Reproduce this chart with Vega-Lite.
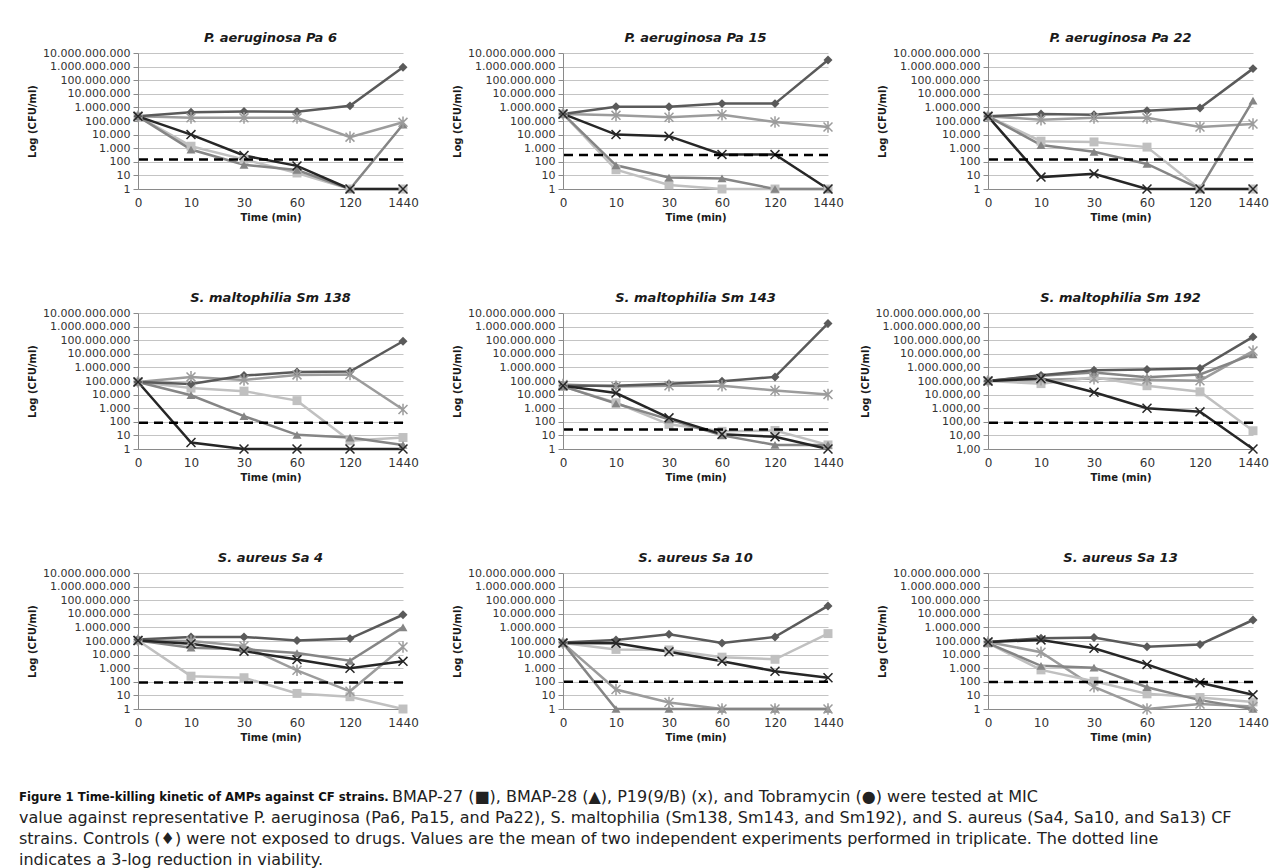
{
"$schema": "https://vega.github.io/schema/vega-lite/v6.json",
"background": "white",
"padding": {"left": 19, "top": 32, "right": 5, "bottom": 0},
"config": {
 "locale": {"number": {"decimal": ",", "thousands": ".", "grouping": [3], "currency": ["€", ""]}},
 "view": {"stroke": null},
 "font": "DejaVu Sans",
 "title": {"fontSize": 13, "fontWeight": "bold", "fontStyle": "italic", "color": "#1a1a1a", "offset": 2, "anchor": "middle", "font": "DejaVu Sans"},
 "axis": {"labelFont": "DejaVu Sans", "titleFont": "DejaVu Sans", "labelColor": "#333333", "titleColor": "#1a1a1a", "titleFontWeight": "bold", "titleFontSize": 10},
 "axisY": {"labelFontSize": 11, "domainColor": "#8a8a8a", "tickColor": "#8a8a8a", "tickSize": 5, "labelPadding": 3, "gridColor": "#c4c4c4", "titlePadding": 5},
 "axisX": {"labelFontSize": 12, "domainColor": "#8a8a8a", "ticks": false, "grid": false, "labelPadding": 8, "titlePadding": 4},
 "legend": {"disable": true}
},
"datasets": {
 "pts": [
  {"p":"Pa6","s":"Tobramycin","t":0,"v":220000},{"p":"Pa6","s":"Tobramycin","t":10,"v":170000},{"p":"Pa6","s":"Tobramycin","t":30,"v":170000},{"p":"Pa6","s":"Tobramycin","t":60,"v":170000},{"p":"Pa6","s":"Tobramycin","t":120,"v":6500},{"p":"Pa6","s":"Tobramycin","t":1440,"v":80000},
  {"p":"Pa6","s":"BMAP-27","t":0,"v":220000},{"p":"Pa6","s":"BMAP-27","t":10,"v":1400},{"p":"Pa6","s":"BMAP-27","t":30,"v":150},{"p":"Pa6","s":"BMAP-27","t":60,"v":15},{"p":"Pa6","s":"BMAP-27","t":120,"v":1},{"p":"Pa6","s":"BMAP-27","t":1440,"v":1},
  {"p":"Pa6","s":"BMAP-28","t":0,"v":220000},{"p":"Pa6","s":"BMAP-28","t":10,"v":800},{"p":"Pa6","s":"BMAP-28","t":30,"v":60},{"p":"Pa6","s":"BMAP-28","t":60,"v":25},{"p":"Pa6","s":"BMAP-28","t":120,"v":1},{"p":"Pa6","s":"BMAP-28","t":1440,"v":55000},
  {"p":"Pa6","s":"Control","t":0,"v":220000},{"p":"Pa6","s":"Control","t":10,"v":440000},{"p":"Pa6","s":"Control","t":30,"v":510000},{"p":"Pa6","s":"Control","t":60,"v":480000},{"p":"Pa6","s":"Control","t":120,"v":1300000},{"p":"Pa6","s":"Control","t":1440,"v":900000000},
  {"p":"Pa6","s":"P19","t":0,"v":220000},{"p":"Pa6","s":"P19","t":10,"v":10000},{"p":"Pa6","s":"P19","t":30,"v":290},{"p":"Pa6","s":"P19","t":60,"v":50},{"p":"Pa6","s":"P19","t":120,"v":1},{"p":"Pa6","s":"P19","t":1440,"v":1},

  {"p":"Pa15","s":"Tobramycin","t":0,"v":330000},{"p":"Pa15","s":"Tobramycin","t":10,"v":260000},{"p":"Pa15","s":"Tobramycin","t":30,"v":190000},{"p":"Pa15","s":"Tobramycin","t":60,"v":290000},{"p":"Pa15","s":"Tobramycin","t":120,"v":85000},{"p":"Pa15","s":"Tobramycin","t":1440,"v":36000},
  {"p":"Pa15","s":"BMAP-27","t":0,"v":330000},{"p":"Pa15","s":"BMAP-27","t":10,"v":26},{"p":"Pa15","s":"BMAP-27","t":30,"v":2},{"p":"Pa15","s":"BMAP-27","t":60,"v":1},{"p":"Pa15","s":"BMAP-27","t":120,"v":1},{"p":"Pa15","s":"BMAP-27","t":1440,"v":1},
  {"p":"Pa15","s":"BMAP-28","t":0,"v":330000},{"p":"Pa15","s":"BMAP-28","t":10,"v":55},{"p":"Pa15","s":"BMAP-28","t":30,"v":7},{"p":"Pa15","s":"BMAP-28","t":60,"v":6},{"p":"Pa15","s":"BMAP-28","t":120,"v":1},{"p":"Pa15","s":"BMAP-28","t":1440,"v":1},
  {"p":"Pa15","s":"Control","t":0,"v":330000},{"p":"Pa15","s":"Control","t":10,"v":1100000},{"p":"Pa15","s":"Control","t":30,"v":1100000},{"p":"Pa15","s":"Control","t":60,"v":1900000},{"p":"Pa15","s":"Control","t":120,"v":1900000},{"p":"Pa15","s":"Control","t":1440,"v":3100000000},
  {"p":"Pa15","s":"P19","t":0,"v":330000},{"p":"Pa15","s":"P19","t":10,"v":10000},{"p":"Pa15","s":"P19","t":30,"v":7700},{"p":"Pa15","s":"P19","t":60,"v":350},{"p":"Pa15","s":"P19","t":120,"v":340},{"p":"Pa15","s":"P19","t":1440,"v":1},

  {"p":"Pa22","s":"Tobramycin","t":0,"v":220000},{"p":"Pa22","s":"Tobramycin","t":10,"v":125000},{"p":"Pa22","s":"Tobramycin","t":30,"v":170000},{"p":"Pa22","s":"Tobramycin","t":60,"v":170000},{"p":"Pa22","s":"Tobramycin","t":120,"v":36000},{"p":"Pa22","s":"Tobramycin","t":1440,"v":60000},
  {"p":"Pa22","s":"BMAP-27","t":0,"v":220000},{"p":"Pa22","s":"BMAP-27","t":10,"v":3300},{"p":"Pa22","s":"BMAP-27","t":30,"v":2900},{"p":"Pa22","s":"BMAP-27","t":60,"v":1200},{"p":"Pa22","s":"BMAP-27","t":120,"v":1},{"p":"Pa22","s":"BMAP-27","t":1440,"v":1},
  {"p":"Pa22","s":"BMAP-28","t":0,"v":220000},{"p":"Pa22","s":"BMAP-28","t":10,"v":1700},{"p":"Pa22","s":"BMAP-28","t":30,"v":540},{"p":"Pa22","s":"BMAP-28","t":60,"v":70},{"p":"Pa22","s":"BMAP-28","t":120,"v":1},{"p":"Pa22","s":"BMAP-28","t":1440,"v":3100000},
  {"p":"Pa22","s":"Control","t":0,"v":220000},{"p":"Pa22","s":"Control","t":10,"v":330000},{"p":"Pa22","s":"Control","t":30,"v":290000},{"p":"Pa22","s":"Control","t":60,"v":570000},{"p":"Pa22","s":"Control","t":120,"v":900000},{"p":"Pa22","s":"Control","t":1440,"v":710000000},
  {"p":"Pa22","s":"P19","t":0,"v":220000},{"p":"Pa22","s":"P19","t":10,"v":7.5},{"p":"Pa22","s":"P19","t":30,"v":13},{"p":"Pa22","s":"P19","t":60,"v":1},{"p":"Pa22","s":"P19","t":120,"v":1},{"p":"Pa22","s":"P19","t":1440,"v":1},

  {"p":"Sm138","s":"Tobramycin","t":0,"v":85000},{"p":"Sm138","s":"Tobramycin","t":10,"v":200000},{"p":"Sm138","s":"Tobramycin","t":30,"v":120000},{"p":"Sm138","s":"Tobramycin","t":60,"v":280000},{"p":"Sm138","s":"Tobramycin","t":120,"v":300000},{"p":"Sm138","s":"Tobramycin","t":1440,"v":800},
  {"p":"Sm138","s":"BMAP-27","t":0,"v":85000},{"p":"Sm138","s":"BMAP-27","t":10,"v":30000},{"p":"Sm138","s":"BMAP-27","t":30,"v":18000},{"p":"Sm138","s":"BMAP-27","t":60,"v":3600},{"p":"Sm138","s":"BMAP-27","t":120,"v":4},{"p":"Sm138","s":"BMAP-27","t":1440,"v":7},
  {"p":"Sm138","s":"BMAP-28","t":0,"v":85000},{"p":"Sm138","s":"BMAP-28","t":10,"v":9000},{"p":"Sm138","s":"BMAP-28","t":30,"v":260},{"p":"Sm138","s":"BMAP-28","t":60,"v":11},{"p":"Sm138","s":"BMAP-28","t":120,"v":7},{"p":"Sm138","s":"BMAP-28","t":1440,"v":2},
  {"p":"Sm138","s":"Control","t":0,"v":85000},{"p":"Sm138","s":"Control","t":10,"v":60000},{"p":"Sm138","s":"Control","t":30,"v":250000},{"p":"Sm138","s":"Control","t":60,"v":460000},{"p":"Sm138","s":"Control","t":120,"v":500000},{"p":"Sm138","s":"Control","t":1440,"v":84000000},
  {"p":"Sm138","s":"P19","t":0,"v":85000},{"p":"Sm138","s":"P19","t":10,"v":3},{"p":"Sm138","s":"P19","t":30,"v":1},{"p":"Sm138","s":"P19","t":60,"v":1},{"p":"Sm138","s":"P19","t":120,"v":1},{"p":"Sm138","s":"P19","t":1440,"v":1},

  {"p":"Sm143","s":"Tobramycin","t":0,"v":55000},{"p":"Sm143","s":"Tobramycin","t":10,"v":40000},{"p":"Sm143","s":"Tobramycin","t":30,"v":45000},{"p":"Sm143","s":"Tobramycin","t":60,"v":45000},{"p":"Sm143","s":"Tobramycin","t":120,"v":20000},{"p":"Sm143","s":"Tobramycin","t":1440,"v":10000},
  {"p":"Sm143","s":"BMAP-27","t":0,"v":40000},{"p":"Sm143","s":"BMAP-27","t":10,"v":2500},{"p":"Sm143","s":"BMAP-27","t":30,"v":65},{"p":"Sm143","s":"BMAP-27","t":60,"v":20},{"p":"Sm143","s":"BMAP-27","t":120,"v":23},{"p":"Sm143","s":"BMAP-27","t":1440,"v":2},
  {"p":"Sm143","s":"BMAP-28","t":0,"v":40000},{"p":"Sm143","s":"BMAP-28","t":10,"v":2200},{"p":"Sm143","s":"BMAP-28","t":30,"v":150},{"p":"Sm143","s":"BMAP-28","t":60,"v":10},{"p":"Sm143","s":"BMAP-28","t":120,"v":2},{"p":"Sm143","s":"BMAP-28","t":1440,"v":2},
  {"p":"Sm143","s":"Control","t":0,"v":45000},{"p":"Sm143","s":"Control","t":10,"v":45000},{"p":"Sm143","s":"Control","t":30,"v":64000},{"p":"Sm143","s":"Control","t":60,"v":95000},{"p":"Sm143","s":"Control","t":120,"v":200000},{"p":"Sm143","s":"Control","t":1440,"v":1700000000},
  {"p":"Sm143","s":"P19","t":0,"v":45000},{"p":"Sm143","s":"P19","t":10,"v":13000},{"p":"Sm143","s":"P19","t":30,"v":195},{"p":"Sm143","s":"P19","t":60,"v":12},{"p":"Sm143","s":"P19","t":120,"v":8},{"p":"Sm143","s":"P19","t":1440,"v":1},

  {"p":"Sm192","s":"Tobramycin","t":0,"v":100000},{"p":"Sm192","s":"Tobramycin","t":10,"v":125000},{"p":"Sm192","s":"Tobramycin","t":30,"v":150000},{"p":"Sm192","s":"Tobramycin","t":60,"v":125000},{"p":"Sm192","s":"Tobramycin","t":120,"v":105000},{"p":"Sm192","s":"Tobramycin","t":1440,"v":16000000},
  {"p":"Sm192","s":"BMAP-27","t":0,"v":100000},{"p":"Sm192","s":"BMAP-27","t":10,"v":64000},{"p":"Sm192","s":"BMAP-27","t":30,"v":190000},{"p":"Sm192","s":"BMAP-27","t":60,"v":45000},{"p":"Sm192","s":"BMAP-27","t":120,"v":16000},{"p":"Sm192","s":"BMAP-27","t":1440,"v":22},
  {"p":"Sm192","s":"BMAP-28","t":0,"v":100000},{"p":"Sm192","s":"BMAP-28","t":10,"v":240000},{"p":"Sm192","s":"BMAP-28","t":30,"v":430000},{"p":"Sm192","s":"BMAP-28","t":60,"v":190000},{"p":"Sm192","s":"BMAP-28","t":120,"v":300000},{"p":"Sm192","s":"BMAP-28","t":1440,"v":9000000},
  {"p":"Sm192","s":"Control","t":0,"v":100000},{"p":"Sm192","s":"Control","t":10,"v":260000},{"p":"Sm192","s":"Control","t":30,"v":630000},{"p":"Sm192","s":"Control","t":60,"v":700000},{"p":"Sm192","s":"Control","t":120,"v":850000},{"p":"Sm192","s":"Control","t":1440,"v":175000000},
  {"p":"Sm192","s":"P19","t":0,"v":100000},{"p":"Sm192","s":"P19","t":10,"v":150000},{"p":"Sm192","s":"P19","t":30,"v":15000},{"p":"Sm192","s":"P19","t":60,"v":1000},{"p":"Sm192","s":"P19","t":120,"v":540},{"p":"Sm192","s":"P19","t":1440,"v":1},

  {"p":"Sa4","s":"Tobramycin","t":0,"v":110000},{"p":"Sa4","s":"Tobramycin","t":10,"v":100000},{"p":"Sa4","s":"Tobramycin","t":30,"v":43000},{"p":"Sa4","s":"Tobramycin","t":60,"v":700},{"p":"Sa4","s":"Tobramycin","t":120,"v":20},{"p":"Sa4","s":"Tobramycin","t":1440,"v":36000},
  {"p":"Sa4","s":"BMAP-27","t":0,"v":110000},{"p":"Sa4","s":"BMAP-27","t":10,"v":260},{"p":"Sa4","s":"BMAP-27","t":30,"v":200},{"p":"Sa4","s":"BMAP-27","t":60,"v":14},{"p":"Sa4","s":"BMAP-27","t":120,"v":8},{"p":"Sa4","s":"BMAP-27","t":1440,"v":1},
  {"p":"Sa4","s":"BMAP-28","t":0,"v":110000},{"p":"Sa4","s":"BMAP-28","t":10,"v":32000},{"p":"Sa4","s":"BMAP-28","t":30,"v":25000},{"p":"Sa4","s":"BMAP-28","t":60,"v":13000},{"p":"Sa4","s":"BMAP-28","t":120,"v":3500},{"p":"Sa4","s":"BMAP-28","t":1440,"v":1000000},
  {"p":"Sa4","s":"Control","t":0,"v":130000},{"p":"Sa4","s":"Control","t":10,"v":200000},{"p":"Sa4","s":"Control","t":30,"v":200000},{"p":"Sa4","s":"Control","t":60,"v":110000},{"p":"Sa4","s":"Control","t":120,"v":150000},{"p":"Sa4","s":"Control","t":1440,"v":8500000},
  {"p":"Sa4","s":"P19","t":0,"v":110000},{"p":"Sa4","s":"P19","t":10,"v":63000},{"p":"Sa4","s":"P19","t":30,"v":18000},{"p":"Sa4","s":"P19","t":60,"v":4300},{"p":"Sa4","s":"P19","t":120,"v":1000},{"p":"Sa4","s":"P19","t":1440,"v":3200},

  {"p":"Sa10","s":"Tobramycin","t":0,"v":70000},{"p":"Sa10","s":"Tobramycin","t":10,"v":27},{"p":"Sa10","s":"Tobramycin","t":30,"v":3},{"p":"Sa10","s":"Tobramycin","t":60,"v":1},{"p":"Sa10","s":"Tobramycin","t":120,"v":1},{"p":"Sa10","s":"Tobramycin","t":1440,"v":1},
  {"p":"Sa10","s":"BMAP-27","t":0,"v":70000},{"p":"Sa10","s":"BMAP-27","t":10,"v":24000},{"p":"Sa10","s":"BMAP-27","t":30,"v":22000},{"p":"Sa10","s":"BMAP-27","t":60,"v":6500},{"p":"Sa10","s":"BMAP-27","t":120,"v":4500},{"p":"Sa10","s":"BMAP-27","t":1440,"v":350000},
  {"p":"Sa10","s":"BMAP-28","t":0,"v":70000},{"p":"Sa10","s":"BMAP-28","t":10,"v":1},{"p":"Sa10","s":"BMAP-28","t":30,"v":1},{"p":"Sa10","s":"BMAP-28","t":60,"v":1},{"p":"Sa10","s":"BMAP-28","t":120,"v":1},{"p":"Sa10","s":"BMAP-28","t":1440,"v":1},
  {"p":"Sa10","s":"Control","t":0,"v":76000},{"p":"Sa10","s":"Control","t":10,"v":120000},{"p":"Sa10","s":"Control","t":30,"v":310000},{"p":"Sa10","s":"Control","t":60,"v":70000},{"p":"Sa10","s":"Control","t":120,"v":200000},{"p":"Sa10","s":"Control","t":1440,"v":38000000},
  {"p":"Sa10","s":"P19","t":0,"v":70000},{"p":"Sa10","s":"P19","t":10,"v":67000},{"p":"Sa10","s":"P19","t":30,"v":16000},{"p":"Sa10","s":"P19","t":60,"v":3300},{"p":"Sa10","s":"P19","t":120,"v":600},{"p":"Sa10","s":"P19","t":1440,"v":200},

  {"p":"Sa13","s":"Tobramycin","t":0,"v":85000},{"p":"Sa13","s":"Tobramycin","t":10,"v":15000},{"p":"Sa13","s":"Tobramycin","t":30,"v":43},{"p":"Sa13","s":"Tobramycin","t":60,"v":1},{"p":"Sa13","s":"Tobramycin","t":120,"v":2.3},{"p":"Sa13","s":"Tobramycin","t":1440,"v":1.5},
  {"p":"Sa13","s":"BMAP-27","t":0,"v":70000},{"p":"Sa13","s":"BMAP-27","t":10,"v":750},{"p":"Sa13","s":"BMAP-27","t":30,"v":110},{"p":"Sa13","s":"BMAP-27","t":60,"v":13},{"p":"Sa13","s":"BMAP-27","t":120,"v":7},{"p":"Sa13","s":"BMAP-27","t":1440,"v":3.3},
  {"p":"Sa13","s":"BMAP-28","t":0,"v":70000},{"p":"Sa13","s":"BMAP-28","t":10,"v":1500},{"p":"Sa13","s":"BMAP-28","t":30,"v":1100},{"p":"Sa13","s":"BMAP-28","t":60,"v":40},{"p":"Sa13","s":"BMAP-28","t":120,"v":4.5},{"p":"Sa13","s":"BMAP-28","t":1440,"v":1},
  {"p":"Sa13","s":"Control","t":0,"v":85000},{"p":"Sa13","s":"Control","t":10,"v":160000},{"p":"Sa13","s":"Control","t":30,"v":180000},{"p":"Sa13","s":"Control","t":60,"v":38000},{"p":"Sa13","s":"Control","t":120,"v":56000},{"p":"Sa13","s":"Control","t":1440,"v":3500000},
  {"p":"Sa13","s":"P19","t":0,"v":85000},{"p":"Sa13","s":"P19","t":10,"v":120000},{"p":"Sa13","s":"P19","t":30,"v":29000},{"p":"Sa13","s":"P19","t":60,"v":1900},{"p":"Sa13","s":"P19","t":120,"v":85},{"p":"Sa13","s":"P19","t":1440,"v":11}
 ],
 "mic": [
  {"p":"Pa6","v":150},{"p":"Pa15","v":310},{"p":"Pa22","v":150},
  {"p":"Sm138","v":85},{"p":"Sm143","v":27},{"p":"Sm192","v":85},
  {"p":"Sa4","v":90},{"p":"Sa10","v":100},{"p":"Sa13","v":95}
 ],
 "cap": [
  {"line":1,"seg":"head","text":"Figure 1 Time-killing kinetic of AMPs against CF strains."},
  {"line":1,"seg":"rest","text":"BMAP-27 (■), BMAP-28 (▲), P19(9/B) (x), and Tobramycin (●) were tested at MIC"},
  {"line":2,"seg":"body","text":"value against representative P. aeruginosa (Pa6, Pa15, and Pa22), S. maltophilia (Sm138, Sm143, and Sm192), and S. aureus (Sa4, Sa10, and Sa13) CF"},
  {"line":3,"seg":"body","text":"strains. Controls (♦) were not exposed to drugs. Values are the mean of two independent experiments performed in triplicate. The dotted line"},
  {"line":4,"seg":"body","text":"indicates a 3-log reduction in viability."}
 ]
},
"vconcat": [
 {
  "columns": 3,
  "bounds": "flush",
  "spacing": {"row": 124, "column": 160},
  "concat": [
   {"width":265,"height":136,"title":"P. aeruginosa Pa 6","layer":[
    {"data":{"name":"pts"},"transform":[{"filter":"datum.p=='Pa6'"}],"mark":{"type":"line","strokeWidth":2.5},"encoding":{"x":{"field":"t","type":"ordinal","scale":{"type":"point","padding":0},"title":"Time (min)","axis":{"labelAngle":0}},"y":{"field":"v","type":"quantitative","scale":{"type":"log","domain":[1,10000000000],"nice":false},"title":"Log (CFU/ml)","axis":{"values":[1,10,100,1000,10000,100000,1000000,10000000,100000000,1000000000,10000000000],"format":",d"}},"color":{"field":"s","scale":{"domain":["Control","BMAP-27","BMAP-28","P19","Tobramycin"],"range":["#5a5a5a","#c0c0c0","#858585","#262626","#9c9c9c"]}}}},
    {"data":{"name":"pts"},"transform":[{"filter":"datum.p=='Pa6' && (datum.s=='Control'||datum.s=='BMAP-27'||datum.s=='BMAP-28')"}],"mark":{"type":"point","filled":true,"opacity":1,"size":80},"encoding":{"x":{"field":"t","type":"ordinal","title":"Time (min)"},"y":{"field":"v","type":"quantitative","title":"Log (CFU/ml)"},"color":{"field":"s"},"shape":{"field":"s","scale":{"domain":["Control","BMAP-27","BMAP-28","P19","Tobramycin"],"range":["diamond","square","triangle-up","M-1,-1L1,1M1,-1L-1,1","M-1,-1L1,1M1,-1L-1,1M0,-1.3L0,1.3"]}}}},
    {"data":{"name":"pts"},"transform":[{"filter":"datum.p=='Pa6' && (datum.s=='P19'||datum.s=='Tobramycin')"}],"mark":{"type":"point","filled":false,"opacity":1,"size":80,"strokeWidth":1.5},"encoding":{"x":{"field":"t","type":"ordinal","title":"Time (min)"},"y":{"field":"v","type":"quantitative","title":"Log (CFU/ml)"},"color":{"field":"s"},"shape":{"field":"s"}}},
    {"data":{"name":"mic"},"transform":[{"filter":"datum.p=='Pa6'"}],"mark":{"type":"rule","strokeDash":[9,6],"strokeWidth":2.5,"color":"#000000"},"encoding":{"y":{"field":"v","type":"quantitative","title":"Log (CFU/ml)"}}}
   ]},
   {"width":265,"height":136,"title":"P. aeruginosa Pa 15","layer":[
    {"data":{"name":"pts"},"transform":[{"filter":"datum.p=='Pa15'"}],"mark":{"type":"line","strokeWidth":2.5},"encoding":{"x":{"field":"t","type":"ordinal","scale":{"type":"point","padding":0},"title":"Time (min)","axis":{"labelAngle":0}},"y":{"field":"v","type":"quantitative","scale":{"type":"log","domain":[1,10000000000],"nice":false},"title":"Log (CFU/ml)","axis":{"values":[1,10,100,1000,10000,100000,1000000,10000000,100000000,1000000000,10000000000],"format":",d"}},"color":{"field":"s","scale":{"domain":["Control","BMAP-27","BMAP-28","P19","Tobramycin"],"range":["#5a5a5a","#c0c0c0","#858585","#262626","#9c9c9c"]}}}},
    {"data":{"name":"pts"},"transform":[{"filter":"datum.p=='Pa15' && (datum.s=='Control'||datum.s=='BMAP-27'||datum.s=='BMAP-28')"}],"mark":{"type":"point","filled":true,"opacity":1,"size":80},"encoding":{"x":{"field":"t","type":"ordinal","title":"Time (min)"},"y":{"field":"v","type":"quantitative","title":"Log (CFU/ml)"},"color":{"field":"s"},"shape":{"field":"s","scale":{"domain":["Control","BMAP-27","BMAP-28","P19","Tobramycin"],"range":["diamond","square","triangle-up","M-1,-1L1,1M1,-1L-1,1","M-1,-1L1,1M1,-1L-1,1M0,-1.3L0,1.3"]}}}},
    {"data":{"name":"pts"},"transform":[{"filter":"datum.p=='Pa15' && (datum.s=='P19'||datum.s=='Tobramycin')"}],"mark":{"type":"point","filled":false,"opacity":1,"size":80,"strokeWidth":1.5},"encoding":{"x":{"field":"t","type":"ordinal","title":"Time (min)"},"y":{"field":"v","type":"quantitative","title":"Log (CFU/ml)"},"color":{"field":"s"},"shape":{"field":"s"}}},
    {"data":{"name":"mic"},"transform":[{"filter":"datum.p=='Pa15'"}],"mark":{"type":"rule","strokeDash":[9,6],"strokeWidth":2.5,"color":"#000000"},"encoding":{"y":{"field":"v","type":"quantitative","title":"Log (CFU/ml)"}}}
   ]},
   {"width":265,"height":136,"title":"P. aeruginosa Pa 22","layer":[
    {"data":{"name":"pts"},"transform":[{"filter":"datum.p=='Pa22'"}],"mark":{"type":"line","strokeWidth":2.5},"encoding":{"x":{"field":"t","type":"ordinal","scale":{"type":"point","padding":0},"title":"Time (min)","axis":{"labelAngle":0}},"y":{"field":"v","type":"quantitative","scale":{"type":"log","domain":[1,10000000000],"nice":false},"title":"Log (CFU/ml)","axis":{"values":[1,10,100,1000,10000,100000,1000000,10000000,100000000,1000000000,10000000000],"format":",d"}},"color":{"field":"s","scale":{"domain":["Control","BMAP-27","BMAP-28","P19","Tobramycin"],"range":["#5a5a5a","#c0c0c0","#858585","#262626","#9c9c9c"]}}}},
    {"data":{"name":"pts"},"transform":[{"filter":"datum.p=='Pa22' && (datum.s=='Control'||datum.s=='BMAP-27'||datum.s=='BMAP-28')"}],"mark":{"type":"point","filled":true,"opacity":1,"size":80},"encoding":{"x":{"field":"t","type":"ordinal","title":"Time (min)"},"y":{"field":"v","type":"quantitative","title":"Log (CFU/ml)"},"color":{"field":"s"},"shape":{"field":"s","scale":{"domain":["Control","BMAP-27","BMAP-28","P19","Tobramycin"],"range":["diamond","square","triangle-up","M-1,-1L1,1M1,-1L-1,1","M-1,-1L1,1M1,-1L-1,1M0,-1.3L0,1.3"]}}}},
    {"data":{"name":"pts"},"transform":[{"filter":"datum.p=='Pa22' && (datum.s=='P19'||datum.s=='Tobramycin')"}],"mark":{"type":"point","filled":false,"opacity":1,"size":80,"strokeWidth":1.5},"encoding":{"x":{"field":"t","type":"ordinal","title":"Time (min)"},"y":{"field":"v","type":"quantitative","title":"Log (CFU/ml)"},"color":{"field":"s"},"shape":{"field":"s"}}},
    {"data":{"name":"mic"},"transform":[{"filter":"datum.p=='Pa22'"}],"mark":{"type":"rule","strokeDash":[9,6],"strokeWidth":2.5,"color":"#000000"},"encoding":{"y":{"field":"v","type":"quantitative","title":"Log (CFU/ml)"}}}
   ]},
   {"width":265,"height":136,"title":"S. maltophilia Sm 138","layer":[
    {"data":{"name":"pts"},"transform":[{"filter":"datum.p=='Sm138'"}],"mark":{"type":"line","strokeWidth":2.5},"encoding":{"x":{"field":"t","type":"ordinal","scale":{"type":"point","padding":0},"title":"Time (min)","axis":{"labelAngle":0}},"y":{"field":"v","type":"quantitative","scale":{"type":"log","domain":[1,10000000000],"nice":false},"title":"Log (CFU/ml)","axis":{"values":[1,10,100,1000,10000,100000,1000000,10000000,100000000,1000000000,10000000000],"format":",d"}},"color":{"field":"s","scale":{"domain":["Control","BMAP-27","BMAP-28","P19","Tobramycin"],"range":["#5a5a5a","#c0c0c0","#858585","#262626","#9c9c9c"]}}}},
    {"data":{"name":"pts"},"transform":[{"filter":"datum.p=='Sm138' && (datum.s=='Control'||datum.s=='BMAP-27'||datum.s=='BMAP-28')"}],"mark":{"type":"point","filled":true,"opacity":1,"size":80},"encoding":{"x":{"field":"t","type":"ordinal","title":"Time (min)"},"y":{"field":"v","type":"quantitative","title":"Log (CFU/ml)"},"color":{"field":"s"},"shape":{"field":"s","scale":{"domain":["Control","BMAP-27","BMAP-28","P19","Tobramycin"],"range":["diamond","square","triangle-up","M-1,-1L1,1M1,-1L-1,1","M-1,-1L1,1M1,-1L-1,1M0,-1.3L0,1.3"]}}}},
    {"data":{"name":"pts"},"transform":[{"filter":"datum.p=='Sm138' && (datum.s=='P19'||datum.s=='Tobramycin')"}],"mark":{"type":"point","filled":false,"opacity":1,"size":80,"strokeWidth":1.5},"encoding":{"x":{"field":"t","type":"ordinal","title":"Time (min)"},"y":{"field":"v","type":"quantitative","title":"Log (CFU/ml)"},"color":{"field":"s"},"shape":{"field":"s"}}},
    {"data":{"name":"mic"},"transform":[{"filter":"datum.p=='Sm138'"}],"mark":{"type":"rule","strokeDash":[9,6],"strokeWidth":2.5,"color":"#000000"},"encoding":{"y":{"field":"v","type":"quantitative","title":"Log (CFU/ml)"}}}
   ]},
   {"width":265,"height":136,"title":"S. maltophilia Sm 143","layer":[
    {"data":{"name":"pts"},"transform":[{"filter":"datum.p=='Sm143'"}],"mark":{"type":"line","strokeWidth":2.5},"encoding":{"x":{"field":"t","type":"ordinal","scale":{"type":"point","padding":0},"title":"Time (min)","axis":{"labelAngle":0}},"y":{"field":"v","type":"quantitative","scale":{"type":"log","domain":[1,10000000000],"nice":false},"title":"Log (CFU/ml)","axis":{"values":[1,10,100,1000,10000,100000,1000000,10000000,100000000,1000000000,10000000000],"format":",d"}},"color":{"field":"s","scale":{"domain":["Control","BMAP-27","BMAP-28","P19","Tobramycin"],"range":["#5a5a5a","#c0c0c0","#858585","#262626","#9c9c9c"]}}}},
    {"data":{"name":"pts"},"transform":[{"filter":"datum.p=='Sm143' && (datum.s=='Control'||datum.s=='BMAP-27'||datum.s=='BMAP-28')"}],"mark":{"type":"point","filled":true,"opacity":1,"size":80},"encoding":{"x":{"field":"t","type":"ordinal","title":"Time (min)"},"y":{"field":"v","type":"quantitative","title":"Log (CFU/ml)"},"color":{"field":"s"},"shape":{"field":"s","scale":{"domain":["Control","BMAP-27","BMAP-28","P19","Tobramycin"],"range":["diamond","square","triangle-up","M-1,-1L1,1M1,-1L-1,1","M-1,-1L1,1M1,-1L-1,1M0,-1.3L0,1.3"]}}}},
    {"data":{"name":"pts"},"transform":[{"filter":"datum.p=='Sm143' && (datum.s=='P19'||datum.s=='Tobramycin')"}],"mark":{"type":"point","filled":false,"opacity":1,"size":80,"strokeWidth":1.5},"encoding":{"x":{"field":"t","type":"ordinal","title":"Time (min)"},"y":{"field":"v","type":"quantitative","title":"Log (CFU/ml)"},"color":{"field":"s"},"shape":{"field":"s"}}},
    {"data":{"name":"mic"},"transform":[{"filter":"datum.p=='Sm143'"}],"mark":{"type":"rule","strokeDash":[9,6],"strokeWidth":2.5,"color":"#000000"},"encoding":{"y":{"field":"v","type":"quantitative","title":"Log (CFU/ml)"}}}
   ]},
   {"width":265,"height":136,"title":"S. maltophilia Sm 192","layer":[
    {"data":{"name":"pts"},"transform":[{"filter":"datum.p=='Sm192'"}],"mark":{"type":"line","strokeWidth":2.5},"encoding":{"x":{"field":"t","type":"ordinal","scale":{"type":"point","padding":0},"title":"Time (min)","axis":{"labelAngle":0}},"y":{"field":"v","type":"quantitative","scale":{"type":"log","domain":[1,10000000000],"nice":false},"title":"Log (CFU/ml)","axis":{"values":[1,10,100,1000,10000,100000,1000000,10000000,100000000,1000000000,10000000000],"format":",.2f"}},"color":{"field":"s","scale":{"domain":["Control","BMAP-27","BMAP-28","P19","Tobramycin"],"range":["#5a5a5a","#c0c0c0","#858585","#262626","#9c9c9c"]}}}},
    {"data":{"name":"pts"},"transform":[{"filter":"datum.p=='Sm192' && (datum.s=='Control'||datum.s=='BMAP-27'||datum.s=='BMAP-28')"}],"mark":{"type":"point","filled":true,"opacity":1,"size":80},"encoding":{"x":{"field":"t","type":"ordinal","title":"Time (min)"},"y":{"field":"v","type":"quantitative","title":"Log (CFU/ml)"},"color":{"field":"s"},"shape":{"field":"s","scale":{"domain":["Control","BMAP-27","BMAP-28","P19","Tobramycin"],"range":["diamond","square","triangle-up","M-1,-1L1,1M1,-1L-1,1","M-1,-1L1,1M1,-1L-1,1M0,-1.3L0,1.3"]}}}},
    {"data":{"name":"pts"},"transform":[{"filter":"datum.p=='Sm192' && (datum.s=='P19'||datum.s=='Tobramycin')"}],"mark":{"type":"point","filled":false,"opacity":1,"size":80,"strokeWidth":1.5},"encoding":{"x":{"field":"t","type":"ordinal","title":"Time (min)"},"y":{"field":"v","type":"quantitative","title":"Log (CFU/ml)"},"color":{"field":"s"},"shape":{"field":"s"}}},
    {"data":{"name":"mic"},"transform":[{"filter":"datum.p=='Sm192'"}],"mark":{"type":"rule","strokeDash":[9,6],"strokeWidth":2.5,"color":"#000000"},"encoding":{"y":{"field":"v","type":"quantitative","title":"Log (CFU/ml)"}}}
   ]},
   {"width":265,"height":136,"title":"S. aureus Sa 4","layer":[
    {"data":{"name":"pts"},"transform":[{"filter":"datum.p=='Sa4'"}],"mark":{"type":"line","strokeWidth":2.5},"encoding":{"x":{"field":"t","type":"ordinal","scale":{"type":"point","padding":0},"title":"Time (min)","axis":{"labelAngle":0}},"y":{"field":"v","type":"quantitative","scale":{"type":"log","domain":[1,10000000000],"nice":false},"title":"Log (CFU/ml)","axis":{"values":[1,10,100,1000,10000,100000,1000000,10000000,100000000,1000000000,10000000000],"format":",d"}},"color":{"field":"s","scale":{"domain":["Control","BMAP-27","BMAP-28","P19","Tobramycin"],"range":["#5a5a5a","#c0c0c0","#858585","#262626","#9c9c9c"]}}}},
    {"data":{"name":"pts"},"transform":[{"filter":"datum.p=='Sa4' && (datum.s=='Control'||datum.s=='BMAP-27'||datum.s=='BMAP-28')"}],"mark":{"type":"point","filled":true,"opacity":1,"size":80},"encoding":{"x":{"field":"t","type":"ordinal","title":"Time (min)"},"y":{"field":"v","type":"quantitative","title":"Log (CFU/ml)"},"color":{"field":"s"},"shape":{"field":"s","scale":{"domain":["Control","BMAP-27","BMAP-28","P19","Tobramycin"],"range":["diamond","square","triangle-up","M-1,-1L1,1M1,-1L-1,1","M-1,-1L1,1M1,-1L-1,1M0,-1.3L0,1.3"]}}}},
    {"data":{"name":"pts"},"transform":[{"filter":"datum.p=='Sa4' && (datum.s=='P19'||datum.s=='Tobramycin')"}],"mark":{"type":"point","filled":false,"opacity":1,"size":80,"strokeWidth":1.5},"encoding":{"x":{"field":"t","type":"ordinal","title":"Time (min)"},"y":{"field":"v","type":"quantitative","title":"Log (CFU/ml)"},"color":{"field":"s"},"shape":{"field":"s"}}},
    {"data":{"name":"mic"},"transform":[{"filter":"datum.p=='Sa4'"}],"mark":{"type":"rule","strokeDash":[9,6],"strokeWidth":2.5,"color":"#000000"},"encoding":{"y":{"field":"v","type":"quantitative","title":"Log (CFU/ml)"}}}
   ]},
   {"width":265,"height":136,"title":"S. aureus Sa 10","layer":[
    {"data":{"name":"pts"},"transform":[{"filter":"datum.p=='Sa10'"}],"mark":{"type":"line","strokeWidth":2.5},"encoding":{"x":{"field":"t","type":"ordinal","scale":{"type":"point","padding":0},"title":"Time (min)","axis":{"labelAngle":0}},"y":{"field":"v","type":"quantitative","scale":{"type":"log","domain":[1,10000000000],"nice":false},"title":"Log (CFU/ml)","axis":{"values":[1,10,100,1000,10000,100000,1000000,10000000,100000000,1000000000,10000000000],"format":",d"}},"color":{"field":"s","scale":{"domain":["Control","BMAP-27","BMAP-28","P19","Tobramycin"],"range":["#5a5a5a","#c0c0c0","#858585","#262626","#9c9c9c"]}}}},
    {"data":{"name":"pts"},"transform":[{"filter":"datum.p=='Sa10' && (datum.s=='Control'||datum.s=='BMAP-27'||datum.s=='BMAP-28')"}],"mark":{"type":"point","filled":true,"opacity":1,"size":80},"encoding":{"x":{"field":"t","type":"ordinal","title":"Time (min)"},"y":{"field":"v","type":"quantitative","title":"Log (CFU/ml)"},"color":{"field":"s"},"shape":{"field":"s","scale":{"domain":["Control","BMAP-27","BMAP-28","P19","Tobramycin"],"range":["diamond","square","triangle-up","M-1,-1L1,1M1,-1L-1,1","M-1,-1L1,1M1,-1L-1,1M0,-1.3L0,1.3"]}}}},
    {"data":{"name":"pts"},"transform":[{"filter":"datum.p=='Sa10' && (datum.s=='P19'||datum.s=='Tobramycin')"}],"mark":{"type":"point","filled":false,"opacity":1,"size":80,"strokeWidth":1.5},"encoding":{"x":{"field":"t","type":"ordinal","title":"Time (min)"},"y":{"field":"v","type":"quantitative","title":"Log (CFU/ml)"},"color":{"field":"s"},"shape":{"field":"s"}}},
    {"data":{"name":"mic"},"transform":[{"filter":"datum.p=='Sa10'"}],"mark":{"type":"rule","strokeDash":[9,6],"strokeWidth":2.5,"color":"#000000"},"encoding":{"y":{"field":"v","type":"quantitative","title":"Log (CFU/ml)"}}}
   ]},
   {"width":265,"height":136,"title":"S. aureus Sa 13","layer":[
    {"data":{"name":"pts"},"transform":[{"filter":"datum.p=='Sa13'"}],"mark":{"type":"line","strokeWidth":2.5},"encoding":{"x":{"field":"t","type":"ordinal","scale":{"type":"point","padding":0},"title":"Time (min)","axis":{"labelAngle":0}},"y":{"field":"v","type":"quantitative","scale":{"type":"log","domain":[1,10000000000],"nice":false},"title":"Log (CFU/ml)","axis":{"values":[1,10,100,1000,10000,100000,1000000,10000000,100000000,1000000000,10000000000],"format":",d"}},"color":{"field":"s","scale":{"domain":["Control","BMAP-27","BMAP-28","P19","Tobramycin"],"range":["#5a5a5a","#c0c0c0","#858585","#262626","#9c9c9c"]}}}},
    {"data":{"name":"pts"},"transform":[{"filter":"datum.p=='Sa13' && (datum.s=='Control'||datum.s=='BMAP-27'||datum.s=='BMAP-28')"}],"mark":{"type":"point","filled":true,"opacity":1,"size":80},"encoding":{"x":{"field":"t","type":"ordinal","title":"Time (min)"},"y":{"field":"v","type":"quantitative","title":"Log (CFU/ml)"},"color":{"field":"s"},"shape":{"field":"s","scale":{"domain":["Control","BMAP-27","BMAP-28","P19","Tobramycin"],"range":["diamond","square","triangle-up","M-1,-1L1,1M1,-1L-1,1","M-1,-1L1,1M1,-1L-1,1M0,-1.3L0,1.3"]}}}},
    {"data":{"name":"pts"},"transform":[{"filter":"datum.p=='Sa13' && (datum.s=='P19'||datum.s=='Tobramycin')"}],"mark":{"type":"point","filled":false,"opacity":1,"size":80,"strokeWidth":1.5},"encoding":{"x":{"field":"t","type":"ordinal","title":"Time (min)"},"y":{"field":"v","type":"quantitative","title":"Log (CFU/ml)"},"color":{"field":"s"},"shape":{"field":"s"}}},
    {"data":{"name":"mic"},"transform":[{"filter":"datum.p=='Sa13'"}],"mark":{"type":"rule","strokeDash":[9,6],"strokeWidth":2.5,"color":"#000000"},"encoding":{"y":{"field":"v","type":"quantitative","title":"Log (CFU/ml)"}}}
   ]}
  ]
 },
 {
  "width": 1240, "height": 84,
  "data": {"name": "cap"},
  "encoding": {"y": {"field": "line", "type": "ordinal", "axis": null}, "x": {"value": -119}, "text": {"field": "text"}},
  "layer": [
   {"transform": [{"filter": "datum.seg=='head'"}], "mark": {"type": "text", "align": "left", "baseline": "middle", "font": "DejaVu Sans Condensed, DejaVu Sans", "fontWeight": "bold", "fontSize": 13, "color": "#111111"}},
   {"transform": [{"filter": "datum.seg=='rest'"}], "mark": {"type": "text", "align": "left", "baseline": "middle", "font": "DejaVu Sans", "fontSize": 16, "dx": 373, "color": "#222222"}},
   {"transform": [{"filter": "datum.seg=='body'"}], "mark": {"type": "text", "align": "left", "baseline": "middle", "font": "DejaVu Sans", "fontSize": 16, "color": "#222222"}}
  ]
 }
],
"spacing": 44
}
